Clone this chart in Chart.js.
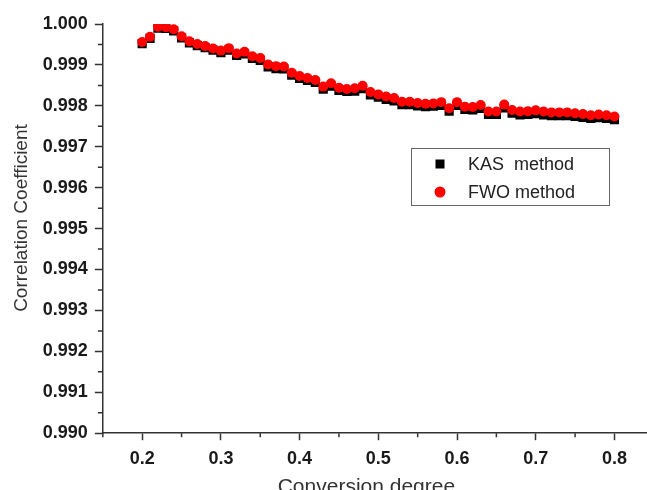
<!DOCTYPE html>
<html>
<head>
<meta charset="utf-8">
<script src="https://cdn.jsdelivr.net/npm/chart.js@4.4.0/dist/chart.umd.min.js"></script>
<style>
  html, body { margin: 0; padding: 0; background: #fff; overflow: hidden; }
  #wrap { width: 654px; height: 503px; position: relative; }
</style>
</head>
<body>
<div id="wrap"><canvas id="myChart"></canvas></div>
<script>
// conversion degree (alpha)
let alpha = [
  0.20, 0.21, 0.22, 0.23, 0.24, 0.25, 0.26, 0.27, 0.28, 0.29,
  0.30, 0.31, 0.32, 0.33, 0.34, 0.35, 0.36, 0.37, 0.38, 0.39,
  0.40, 0.41, 0.42, 0.43, 0.44, 0.45, 0.46, 0.47, 0.48, 0.49,
  0.50, 0.51, 0.52, 0.53, 0.54, 0.55, 0.56, 0.57, 0.58, 0.59,
  0.60, 0.61, 0.62, 0.63, 0.64, 0.65, 0.66, 0.67, 0.68, 0.69,
  0.70, 0.71, 0.72, 0.73, 0.74, 0.75, 0.76, 0.77, 0.78, 0.79,
  0.80
]

let kas = [
  0.99952, 0.99965, 0.99990, 0.99989, 0.99983, 0.99966, 0.99954, 0.99947, 0.99942, 0.99936,
  0.99930, 0.99936, 0.99923, 0.99927, 0.99916, 0.99911, 0.99895, 0.99891, 0.99890, 0.99875,
  0.99867, 0.99862, 0.99857, 0.99841, 0.99848, 0.99838, 0.99835, 0.99836, 0.99842, 0.99827,
  0.99821, 0.99816, 0.99812, 0.99803, 0.99803, 0.99800, 0.99798, 0.99799, 0.99801, 0.99787,
  0.99801, 0.99791, 0.99790, 0.99794, 0.99779, 0.99779, 0.99795, 0.99782, 0.99778, 0.99779,
  0.99781, 0.99778, 0.99776, 0.99776, 0.99776, 0.99774, 0.99772, 0.99769, 0.99771, 0.99769,
  0.99766
]

let fwo = [
  0.99956, 0.99969, 0.99993, 0.99992, 0.99987, 0.99970, 0.99958, 0.99951, 0.99946, 0.99940,
  0.99935, 0.99941, 0.99928, 0.99932, 0.99921, 0.99917, 0.99901, 0.99897, 0.99896, 0.99881,
  0.99873, 0.99868, 0.99863, 0.99847, 0.99855, 0.99844, 0.99841, 0.99843, 0.99849, 0.99834,
  0.99828, 0.99823, 0.99819, 0.99810, 0.99810, 0.99807, 0.99805, 0.99806, 0.99809, 0.99794,
  0.99809, 0.99798, 0.99797, 0.99802, 0.99786, 0.99786, 0.99803, 0.99790, 0.99786, 0.99787,
  0.99789, 0.99786, 0.99784, 0.99784, 0.99784, 0.99782, 0.99780, 0.99777, 0.99779, 0.99777,
  0.99774
]

let xTicks = [0.2, 0.3, 0.4, 0.5, 0.6, 0.7, 0.8]
let xMinor = [0.15, 0.25, 0.35, 0.45, 0.55, 0.65, 0.75]
let yTicks = [0.990, 0.991, 0.992, 0.993, 0.994, 0.995, 0.996, 0.997, 0.998, 0.999, 1.000]
let yMinor = [0.9905, 0.9915, 0.9925, 0.9935, 0.9945, 0.9955, 0.9965, 0.9975, 0.9985, 0.9995]

const axisColor = '#333'
const tickFont = { family: 'Liberation Sans, Arial, sans-serif', size: 18, weight: 'bold' }

// short minor ticks + boxed legend
const extras = {
  id: 'extras',
  afterDraw(chart) {
    const c = chart.ctx
    const area = chart.chartArea
    const sx = chart.scales.x
    const sy = chart.scales.y
    c.save()
    c.strokeStyle = axisColor
    c.lineWidth = 1.5
    c.beginPath()
    xMinor.forEach(v => {
      const px = sx.getPixelForValue(v)
      c.moveTo(px, area.bottom)
      c.lineTo(px, area.bottom + 4)
    })
    yMinor.forEach(v => {
      const py = sy.getPixelForValue(v)
      c.moveTo(area.left, py)
      c.lineTo(area.left - 5, py)
    })
    c.stroke()

    // legend
    c.strokeStyle = '#666'
    c.lineWidth = 1
    c.strokeRect(411.5, 148.5, 198, 57)
    c.font = '18px Liberation Sans, Arial, sans-serif'
    c.textBaseline = 'middle'
    const ds = chart.data.datasets
    const kasSet = ds[1]
    const fwoSet = ds[0]
    c.fillStyle = kasSet.backgroundColor
    c.fillRect(435.5, 159.5, 9, 9)
    c.fillStyle = '#222'
    c.fillText(kasSet.label, 468, 165)
    c.fillStyle = fwoSet.backgroundColor
    c.beginPath()
    c.arc(440, 192, 5.5, 0, Math.PI * 2)
    c.fill()
    c.fillStyle = '#222'
    c.fillText(fwoSet.label, 468, 193)
    c.restore()
  }
}

const ctx = document.getElementById('myChart')

new Chart(ctx, {
  type: 'scatter',
  data: {
    datasets: [
      {
        label: 'FWO method',
        data: alpha.map((a, i) => ({ x: a, y: fwo[i] })),
        backgroundColor: '#ff0000',
        borderColor: '#ff0000',
        borderWidth: 0,
        pointStyle: 'circle',
        pointRadius: 5
      },
      {
        label: 'KAS  method',
        data: alpha.map((a, i) => ({ x: a, y: kas[i] })),
        backgroundColor: '#000000',
        borderColor: '#000000',
        borderWidth: 0,
        pointStyle: 'rect',
        pointRadius: 6.5
      }
    ]
  },
  options: {
    responsive: true,
    maintainAspectRatio: false,
    animation: false,
    layout: { padding: { left: 5, top: 24, right: 0, bottom: 1 } },
    plugins: {
      legend: { display: false },
      tooltip: { enabled: false }
    },
    scales: {
      x: {
        type: 'linear',
        min: 0.15,
        max: 0.842,
        afterBuildTicks: axis => { axis.ticks = xTicks.map(v => ({ value: v })) },
        grid: { drawOnChartArea: false, drawTicks: true, tickLength: 7, tickColor: axisColor, tickWidth: 1.5 },
        border: { display: true, color: axisColor, width: 1.5 },
        ticks: {
          autoSkip: false,
          maxRotation: 0,
          padding: 8,
          color: '#1a1a1a',
          font: tickFont,
          callback: v => v.toFixed(1)
        },
        title: {
          display: true,
          text: 'Conversion degree   ',
          color: '#333',
          font: { family: 'Liberation Sans, Arial, sans-serif', size: 21 },
          padding: { top: -3, bottom: 2 }
        }
      },
      y: {
        type: 'linear',
        min: 0.990,
        max: 1.000,
        afterBuildTicks: axis => { axis.ticks = yTicks.map(v => ({ value: v })) },
        grid: { drawOnChartArea: false, drawTicks: true, tickLength: 8, tickColor: axisColor, tickWidth: 1.5 },
        border: { display: true, color: axisColor, width: 1.5 },
        ticks: {
          autoSkip: false,
          padding: 7,
          color: '#1a1a1a',
          font: tickFont,
          callback: v => v.toFixed(3)
        },
        title: {
          display: true,
          text: '    Correlation Coefficient',
          color: '#333',
          font: { family: 'Liberation Sans, Arial, sans-serif', size: 19 },
          padding: { top: 5, bottom: 3 }
        }
      }
    }
  },
  plugins: [extras]
})
</script>
</body>
</html>
